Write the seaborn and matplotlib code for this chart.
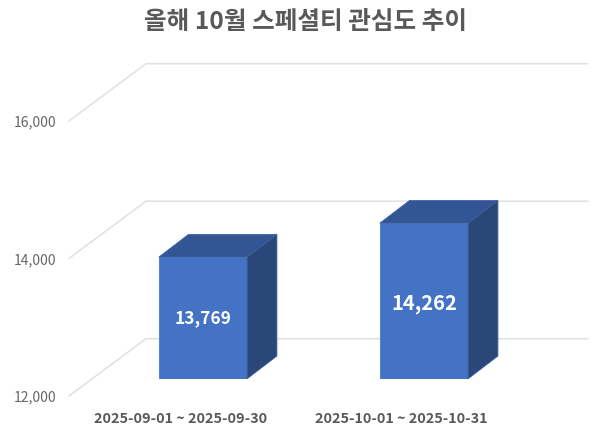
import matplotlib
matplotlib.use('Agg')
import matplotlib.pyplot as plt
import pandas as pd
import seaborn as sns
from matplotlib.lines import Line2D
from matplotlib.patches import Polygon
from matplotlib.transforms import Affine2D

# data
periods = ['2025-09-01 ~ 2025-09-30', '2025-10-01 ~ 2025-10-31']
interest = [13769, 14262]
y_ticks = [12000, 14000, 16000]
y_tick_labels = ['12,000', '14,000', '16,000']
title = '올해 10월 스페셜티 관심도 추이'

df = pd.DataFrame({'period': periods, 'interest': interest})

sns.set_style('white')
plt.rcParams['font.family'] = ['Noto Sans CJK KR', 'DejaVu Sans']

W, H = 600, 438
fig = plt.figure(figsize=(W / 100, H / 100), dpi=100)
# die Achse liegt in der Ebene der Balken-Vorderseite
ax = fig.add_axes([92.5 / W, (H - 378.7) / H, 442 / W, 275 / H])

sns.barplot(data=df, x='period', y='interest', color='#4472C4', width=0.4,
            saturation=1, edgecolor='#5B84CC', linewidth=0.8, ax=ax)
ax.set_xlim(-0.5, 1.5)
ax.set_ylim(y_ticks[0], y_ticks[-1])
ax.set_xlabel('')
ax.set_ylabel('')
sns.despine(ax=ax, left=True, bottom=True)

# 3D-Versatz in Pixeln, relativ zur Balkenebene
front = (-23.5, -17.3)
back = (53.5, 40.0)
side = (29.7, 22.7)
grid_color = '#E0E0E0'

for t in y_ticks:
    x0, y0 = ax.transData.transform((-0.5, t))
    x1, y1 = ax.transData.transform((1.5, t))
    fig.add_artist(Line2D([x0 + front[0], x0 + back[0], x1 + back[0]],
                          [y0 + front[1], y0 + back[1], y1 + back[1]],
                          transform=None, color=grid_color, lw=1.1, zorder=0.5))

ax.patch.set_visible(False)
fig.patch.set_zorder(0)
ax.set_zorder(2)

for bar in ax.patches:
    # Balken beginnen an der Achsenuntergrenze
    top = bar.get_height()
    bar.set_y(y_ticks[0])
    bar.set_height(top - y_ticks[0])
    (l, b), (r, t) = ax.transData.transform(
        [(bar.get_x(), y_ticks[0]), (bar.get_x() + bar.get_width(), top)])
    dx, dy = side
    ax.add_patch(Polygon([(l, t), (r, t), (r + dx, t + dy), (l + dx, t + dy)],
                         transform=None, facecolor='#335593', edgecolor='#3F66A8',
                         lw=0.6, clip_on=False, zorder=3))
    ax.add_patch(Polygon([(r, b), (r + dx, b + dy), (r + dx, t + dy), (r, t)],
                         transform=None, facecolor='#2A4779', edgecolor='#3A5C96',
                         lw=0.6, clip_on=False, zorder=3))

value_labels = ax.bar_label(ax.containers[0], labels=[f'{v:,}' for v in interest],
                            label_type='center', color='white', fontweight='bold')
value_labels[0].set_fontsize(12.5)
value_labels[1].set_fontsize(14.5)
value_labels[1].xyann = (0, -1.5)

ax.set_yticks(y_ticks, y_tick_labels)
ax.tick_params(axis='y', length=0, pad=26, labelsize=10, labelcolor='#666666')
ax.tick_params(axis='x', length=0, pad=24, labelsize=10.4, labelcolor='#595959')
for label in ax.get_yticklabels():
    label.set_transform(label.get_transform() + Affine2D().translate(0, front[1]))
for label in ax.get_xticklabels():
    label.set_fontweight('bold')
    label.set_transform(label.get_transform() + Affine2D().translate(-22.5, 0))

fig.text(305 / W, (H - 22) / H, title, ha='center', va='center',
         fontsize=17.7, fontweight='bold', color='#595959')

fig.savefig('out.png', dpi=100)
